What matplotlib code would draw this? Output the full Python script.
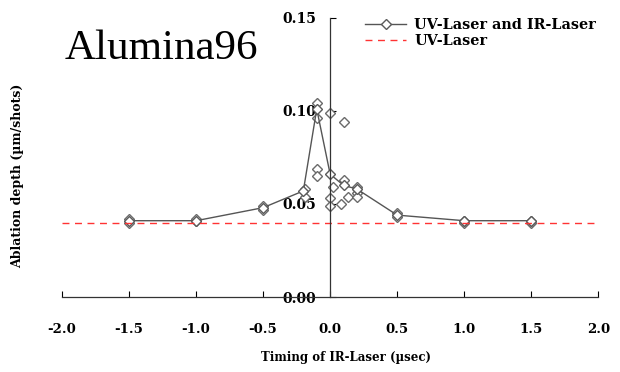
import matplotlib.pyplot as plt

plt.rcParams['font.family'] = ['DejaVu Serif']

# averaged curve (UV + IR laser)
t_mean = [-1.5, -1.0, -0.5, -0.2, -0.1, 0.0, 0.1, 0.2, 0.5, 1.0, 1.5]
d_mean = [0.041, 0.041, 0.048, 0.057, 0.101, 0.066, 0.060, 0.058, 0.044, 0.041, 0.041]

# individual shots
t_pts = [-1.5, -1.5, -1.0, -1.0, -0.5, -0.5, -0.19, -0.19,
         -0.1, -0.1, -0.1, -0.1, 0.0, 0.02, 0.0, 0.0,
         0.1, 0.1, 0.08, 0.13, 0.2, 0.2, 0.2, 0.5, 0.5,
         1.0, 1.0, 1.5, 1.5]
d_pts = [0.040, 0.042, 0.041, 0.042, 0.047, 0.049, 0.054, 0.058,
         0.104, 0.096, 0.069, 0.065, 0.099, 0.059, 0.053, 0.049,
         0.094, 0.063, 0.050, 0.054, 0.059, 0.056, 0.054, 0.043, 0.045,
         0.040, 0.041, 0.040, 0.041]

uv_only = 0.040

fig = plt.figure(figsize=(6.2, 3.72), dpi=100)
ax = fig.add_axes([0.1, 0.2016, 0.865, 0.7504])

ax.plot(t_pts, d_pts, ls='none', marker='D', ms=5.5, mfc='white', mec='#6a6a6a', mew=1.0)
ax.plot(t_mean, d_mean, color='#555555', lw=1.0, marker='D', ms=5.5,
        mfc='white', mec='#5a5a5a', mew=1.0, label='UV-Laser and IR-Laser')
ax.axhline(uv_only, color='#ff3333', ls=(0, (5, 4)), lw=1.0, label='UV-Laser')

ax.set_xlim(-2.0, 2.0)
ax.set_ylim(0, 0.15)
ax.spines['left'].set_position(('data', 0))
ax.spines['bottom'].set_position(('data', 0))
ax.spines['top'].set_visible(False)
ax.spines['right'].set_visible(False)
for s in ('left', 'bottom'):
    ax.spines[s].set_color('#333333')
    ax.spines[s].set_linewidth(0.9)

ax.set_xticks([-2.0, -1.5, -1.0, -0.5, 0.0, 0.5, 1.0, 1.5, 2.0])
ax.set_xticklabels(['-2.0', '-1.5', '-1.0', '-0.5', '0.0', '0.5', '1.0', '1.5', '2.0'],
                   fontweight='bold', fontsize=9.5)
ax.set_yticks([0.0, 0.05, 0.10, 0.15])
ax.set_yticklabels(['0.00', '0.05', '0.10', '0.15'], fontweight='bold', fontsize=10)
ax.tick_params(axis='x', direction='in', length=4, pad=19)
ax.tick_params(axis='y', direction='in', length=4, pad=10)

fig.text(0.558, 0.038, 'Timing of IR-Laser (µsec)', ha='center', va='center',
         fontweight='bold', fontsize=8.5)
fig.text(0.029, 0.527, 'Ablation depth (µm/shots)', rotation=90, ha='center', va='center',
         fontweight='bold', fontsize=9)

fig.text(0.105, 0.87, 'Alumina96', fontsize=31, ha='left', va='center',
         family='Liberation Serif')

leg = ax.legend(loc='upper left', bbox_to_anchor=(0.54, 1.045), frameon=False,
                prop={'weight': 'bold', 'size': 10.4}, handlelength=2.9,
                handletextpad=0.55, labelspacing=0.12)

fig.savefig('out.png', dpi=100)
